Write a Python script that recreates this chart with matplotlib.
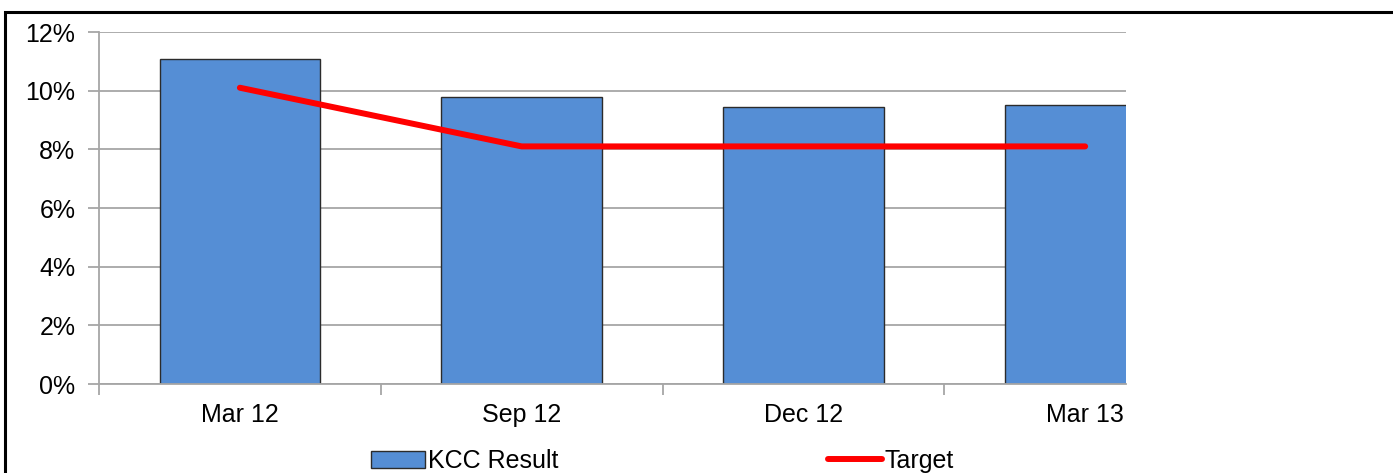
import numpy as np
import matplotlib
matplotlib.use('Agg')
import matplotlib.pyplot as plt
from matplotlib.patches import Rectangle, Patch
from matplotlib.lines import Line2D

plt.rcParams['font.family'] = ['Liberation Sans', 'DejaVu Sans']

# Данные графика
categories = ['Mar 12', 'Sep 12', 'Dec 12', 'Mar 13']
kcc_result = [11.08, 9.79, 9.44, 9.50]
target = [10.1, 8.1, 8.1, 8.1]
y_ticks = [0, 2, 4, 6, 8, 10, 12]

W, H = 1393, 473
FS = 18
fig = plt.figure(figsize=(W / 100, H / 100), dpi=100)
ax = fig.add_axes([99 / W, 1 - 384 / H, (1126 - 99) / W, (384 - 32) / H])

x = np.arange(len(categories))
bar_color = '#558ED5'
grid_color = '#a6a6a6'

ax.bar(x, kcc_result, width=0.57, color=bar_color, edgecolor='#2b2b2b',
       linewidth=1.0, zorder=2)
ax.plot(x, target, color='#ff0000', linewidth=4.3, solid_capstyle='round',
        solid_joinstyle='round', zorder=3)

ax.set_yticks(y_ticks)
ax.set_yticklabels([f'{v}%' for v in y_ticks])
ax.yaxis.grid(True, color=grid_color, linewidth=1.3, zorder=0)
ax.set_axisbelow(True)

# Деления оси X между категориями, подписи по центрам
ax.set_xticks(np.arange(-0.5, len(categories), 1.0))
ax.set_xticklabels([])
ax.set_xticks(x, minor=True)
ax.set_xticklabels(categories, minor=True)
ax.tick_params(axis='x', which='major', length=8, width=1.3, color=grid_color,
               direction='out')
ax.tick_params(axis='x', which='minor', length=0, pad=14, labelsize=FS)
ax.tick_params(axis='y', length=8, width=1.3, color=grid_color, pad=9,
               labelsize=FS)

# пределы после set_xticks, иначе они расширяются
ax.set_ylim(0, 12)
ax.set_xlim(-0.5, 3.145)

for s in ['top', 'right']:
    ax.spines[s].set_visible(False)
for s in ['left', 'bottom']:
    ax.spines[s].set_color(grid_color)
    ax.spines[s].set_linewidth(1.3)

# Легенда
handles = [Patch(facecolor=bar_color, edgecolor='#2b2b2b', linewidth=1.0),
           Line2D([0], [0], color='#ff0000', linewidth=4.3, solid_capstyle='round')]
fig.legend(handles, ['KCC Result', 'Target'], loc='center left',
           bbox_to_anchor=(371 / W, 1 - 461 / H), ncol=2, frameon=False,
           fontsize=FS, handlelength=2.16, handletextpad=0.1,
           columnspacing=10.8, borderpad=0, borderaxespad=0)

# Рамка рисунка
fig.patches.append(Rectangle((5 / W, -0.5), 2.0, 1 - 12 / H + 0.5,
                             transform=fig.transFigure, fill=False,
                             edgecolor='black', linewidth=2.2))

fig.savefig('out.png', dpi=100)
